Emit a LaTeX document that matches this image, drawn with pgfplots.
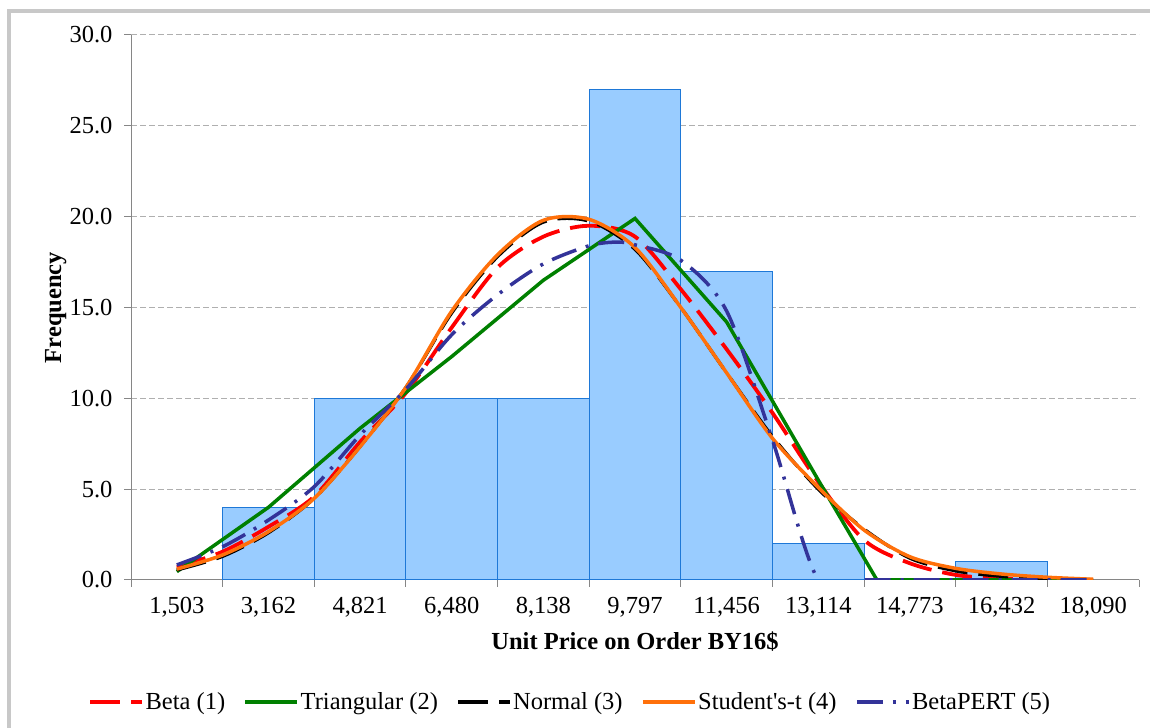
\documentclass[border=0pt]{standalone}
\usepackage{pgfplots}
\pgfplotsset{compat=1.18}
\usepackage{fontspec}
\setmainfont{Liberation Serif}
\definecolor{barfill}{RGB}{153,204,255}
\definecolor{baredge}{RGB}{30,120,215}
\definecolor{gridc}{RGB}{175,175,175}
\definecolor{axc}{RGB}{134,134,134}
\definecolor{betac}{RGB}{255,0,0}
\definecolor{tric}{RGB}{0,128,0}
\definecolor{stc}{RGB}{255,112,10}
\definecolor{pertc}{RGB}{51,51,153}
\definecolor{framec}{RGB}{200,200,200}
\newcommand{\chfont}{\fontsize{24.5bp}{29bp}\selectfont}
\begin{document}
\begin{tikzpicture}[x=1bp,y=1bp]
\useasboundingbox (0,0) rectangle (1150,728);
\draw[framec, line width=3.5bp] (9,-20) -- (9,717) -- (1180,717);
\begin{axis}[
  at={(131bp,148bp)}, anchor=south west,
  scale only axis, width=1008bp, height=545bp,
  xmin=-0.5, xmax=10.5, ymin=0, ymax=30,
  axis x line*=bottom, axis y line*=left,
  axis line style={axc, line width=1bp},
  tick align=outside,
  major tick length=7bp, minor tick length=7bp,
  tick style={axc, line width=1bp},
  xtick={0,1,2,3,4,5,6,7,8,9,10},
  xticklabels={{1,503},{3,162},{4,821},{6,480},{8,138},{9,797},{11,456},{13,114},{14,773},{16,432},{18,090}},
  major x tick style={draw=none},
  minor xtick={-0.5,0.5,1.5,2.5,3.5,4.5,5.5,6.5,7.5,8.5,9.5,10.5},
  ytick={0,5,10,15,20,25,30},
  yticklabels={0.0,5.0,10.0,15.0,20.0,25.0,30.0},
  ymajorgrids,
  major grid style={gridc, dash pattern=on 6bp off 3bp, line width=1bp},
  tick label style={font=\chfont},
  xticklabel style={yshift=-7bp},
  yticklabel style={xshift=-8bp},
  xlabel={\bfseries Unit Price on Order BY16\$},
  ylabel={\bfseries Frequency},
  every axis x label/.style={at={(axis description cs:0.5,-0.1284)}, anchor=base, font=\chfont},
  every axis y label/.style={at={(axis description cs:-0.0694,0.5)}, anchor=base, rotate=90, font=\chfont},
  legend columns=5,
  legend style={at={(axis description cs:0.4355,-0.2239)}, anchor=center, draw=none, fill=none, font=\chfont,
    /tikz/every even column/.append style={column sep=17bp},
    /tikz/every odd column/.append style={column sep=0bp},
    nodes={inner sep=1.5bp}},
  legend image code/.code={\draw[#1] (0bp,0bp) -- (52bp,0bp);},
  legend cell align=left,
]
% histogram
\addplot[ybar, bar width=1, fill=barfill, draw=baredge, line width=1bp, forget plot]
  coordinates {(1,4) (2,10) (3,10) (4,10) (5,27) (6,17) (7,2) (9,1)};
% Beta (1)
\addplot[betac, line width=3.8bp, dash pattern=on 30bp off 11bp, smooth, tension=0.5]
  coordinates {(0,0.70) (0.5,1.56) (1,2.93) (1.5,4.6) (2,7.6) (2.5,10.3) (3,13.9) (3.5,17.2) (4,18.9) (4.5,19.5) (5,18.9) (5.5,16.0) (6,12.7) (6.5,9.2) (7,5.4) (7.5,2.2) (8,0.92) (8.5,0.28) (9,0.08) (9.5,0.02) (10,0.0)};
\addlegendentry{Beta (1)}
% Triangular (2)
\addplot[tric, line width=3.5bp]
  coordinates {(0,0.46) (1,4.0) (2,8.35) (3,12.3) (4,16.5) (5,19.9) (6,14.2) (7,5.5) (7.64,0) (8,0) (9,0) (10,0)};
\addlegendentry{Triangular (2)}
% Normal (3)
\addplot[black, line width=3.2bp, dash pattern=on 30bp off 11bp, smooth, tension=0.5]
  coordinates {(0,0.55) (0.5,1.3) (1,2.6) (1.5,4.5) (2,7.35) (2.5,10.6) (3,14.7) (3.5,17.8) (4,19.7) (4.5,19.75) (5,18.2) (5.5,15.0) (6,11.4) (6.5,7.9) (7,5.0) (7.5,2.8) (8,1.2) (8.5,0.5) (9,0.2) (9.5,0.07) (10,0.02)};
\addlegendentry{Normal (3)}
% Student's-t (4)
\addplot[stc, line width=3.5bp, smooth, tension=0.5]
  coordinates {(0,0.60) (0.5,1.38) (1,2.66) (1.5,4.5) (2,7.34) (2.5,10.6) (3,14.8) (3.5,17.9) (4,19.8) (4.5,19.85) (5,18.3) (5.5,15.0) (6,11.4) (6.5,7.8) (7,5.1) (7.5,2.75) (8,1.28) (8.5,0.64) (9,0.33) (9.5,0.15) (10,0.04)};
\addlegendentry{Student\textquotesingle s-t (4)}
% BetaPERT (5)
\addplot[pertc, line width=3.5bp, dash pattern=on 26bp off 10bp on 3bp off 10bp, smooth, tension=0.5]
  coordinates {(0,0.83) (0.5,1.83) (1,3.3) (1.5,5.14) (2,7.98) (2.5,10.5) (3,13.5) (3.5,15.7) (4,17.4) (4.5,18.4) (4.8,18.6) (5,18.45) (5.5,17.6) (6,14.8) (6.5,7.7) (7,0) (7.5,0) (8,0) (8.5,0) (9,0) (9.5,0) (10,0)};
\addlegendentry{BetaPERT (5)}
\end{axis}
\end{tikzpicture}
\end{document}
